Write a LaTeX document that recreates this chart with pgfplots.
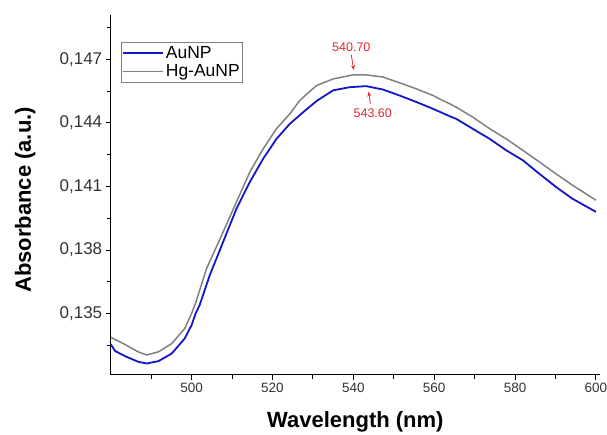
\documentclass[border=0pt]{standalone}
\usepackage{pgfplots}
\pgfplotsset{compat=1.18}
\usepackage{fontspec}
\setmainfont{Liberation Sans}
\usetikzlibrary{arrows.meta}

\definecolor{aublue}{RGB}{20,20,200}
\definecolor{hggray}{RGB}{128,128,128}
\definecolor{annred}{RGB}{230,40,45}

\begin{document}
\begin{tikzpicture}
\begin{axis}[
    name=main,
    at={(0,0)}, anchor=south west,
    scale only axis,
    width=489.3pt, height=359.7pt,
    xmin=480, xmax=601,
    ymin=0.13211, ymax=0.1491,
    axis x line*=bottom, axis y line*=left,
    axis line style={-, line width=1.2pt},
    xtick={500,520,...,600},
    minor xtick={490,510,...,590},
    ytick={0.135,0.138,0.141,0.144,0.147},
    minor ytick={0.1335,0.1365,0.1395,0.1425,0.1455,0.1485},
    tick align=outside,
    major tick length=5pt, minor tick length=4pt,
    tick style={black, line width=1pt},
    /pgf/number format/assume math mode=true,
    xticklabel style={font=\fontsize{13.5}{15}\selectfont, text=black!80},
    yticklabel style={font=\fontsize{17}{19}\selectfont, text=black!80,
        /pgf/number format/.cd, fixed, fixed zerofill, precision=3, use comma},
    scaled y ticks=false,
    xlabel={Wavelength (nm)},
    ylabel={Absorbance (a.u.)},
    xlabel style={font=\fontsize{22}{24}\selectfont\bfseries,
        at={(axis description cs:0.5,-0.146)}, anchor=base},
    ylabel style={font=\fontsize{22}{24}\selectfont\bfseries,
        at={(axis description cs:-0.175,0.486)}, anchor=center},
    legend style={at={(axis description cs:0.0204,0.926)}, anchor=north west,
        draw=gray, line width=0.8pt, font=\fontsize{17.5}{19}\selectfont,
        inner xsep=1pt, inner ysep=2pt, row sep=1pt},
    legend cell align=left,
    legend image code/.code={\draw[#1] (0pt,0pt) -- (40pt,0pt);},
]
\addplot[aublue, line width=1.8pt] coordinates {
(480.0,0.13355) (481.1,0.13323) (483.5,0.13299) (486.8,0.13272)
(488.9,0.13264) (491.8,0.13275) (495.1,0.13311) (498.3,0.13382)
(500.0,0.13445) (501.0,0.13500) (502.0,0.13540) (504.5,0.13681)
(507.8,0.13838) (511.1,0.13995) (514.4,0.14121) (517.7,0.14231)
(521.0,0.14325) (524.3,0.14396) (527.6,0.14451) (531.0,0.14505)
(535.0,0.14554) (539.1,0.14569) (543.2,0.14574) (547.3,0.14558)
(551.4,0.14530) (555.6,0.14499) (559.7,0.14467) (563.8,0.14432)
(565.4,0.14420) (569.5,0.14373) (573.7,0.14325) (577.8,0.14271)
(581.9,0.14224) (586.0,0.14160) (590.1,0.14098) (594.2,0.14042)
(600.0,0.13980)
};
\addlegendentry{AuNP}
\addplot[hggray, line width=1.5pt] coordinates {
(480.0,0.13388) (483.5,0.13354) (486.8,0.13319) (488.9,0.13304)
(491.8,0.13319) (495.1,0.13358) (498.3,0.13429) (500.0,0.13500)
(501.0,0.13550) (503.7,0.13712) (507.8,0.13885) (511.1,0.14027)
(514.4,0.14168) (517.7,0.14278) (521.0,0.14373) (524.3,0.14443)
(526.7,0.14505) (528.4,0.14535) (530.9,0.14577) (535.0,0.14608)
(539.9,0.14627) (543.2,0.14627) (547.3,0.14617) (551.4,0.14590)
(555.6,0.14561) (559.7,0.14530) (561.3,0.14514) (563.8,0.14491)
(565.4,0.14475) (569.5,0.14428) (573.7,0.14373) (577.8,0.14325)
(581.9,0.14271) (586.0,0.14216) (590.1,0.14160) (594.2,0.14106)
(600.0,0.14035)
};
\addlegendentry{Hg-AuNP}
\node[text=annred, font=\fontsize{12.5}{14}\selectfont] at (axis cs:539.5,0.14758) {540.70};
\draw[-{Stealth[length=5pt,width=4pt]}, annred, line width=0.8pt]
    (axis cs:539.5,0.14722) -- (axis cs:540.1,0.14650);
\node[text=annred, font=\fontsize{12.5}{14}\selectfont] at (axis cs:544.8,0.14448) {543.60};
\draw[-{Stealth[length=5pt,width=4pt]}, annred, line width=0.8pt]
    (axis cs:544.2,0.14490) -- (axis cs:543.8,0.14548);
\end{axis}
\pgfresetboundingbox
\path[use as bounding box] (-110.7pt,-59.3pt) rectangle (496.3pt,374.7pt);
\end{tikzpicture}
\end{document}
